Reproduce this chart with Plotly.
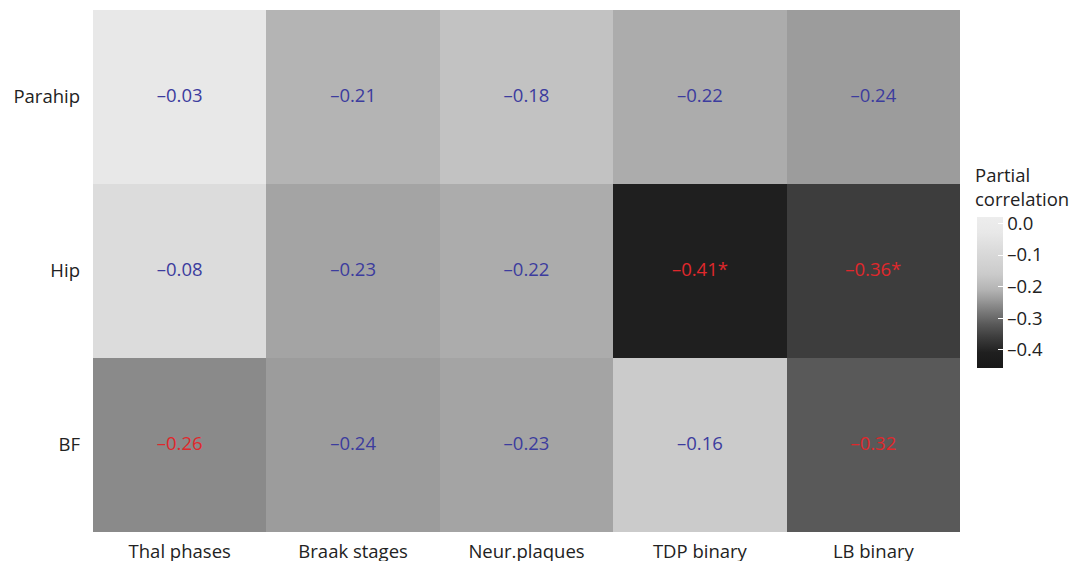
import plotly.graph_objects as go

regions = ["Parahip", "Hip", "BF"]
pathologies = ["Thal phases", "Braak stages", "Neur.plaques", "TDP binary", "LB binary"]

parahip = [-0.03, -0.21, -0.18, -0.22, -0.24]
hip = [-0.08, -0.23, -0.22, -0.41, -0.36]
bf = [-0.26, -0.24, -0.23, -0.16, -0.32]

# nominal significance (red) and corrected significance (star)
sig_parahip = [0, 0, 0, 0, 0]
sig_hip = [0, 0, 0, 1, 1]
sig_bf = [1, 0, 0, 0, 1]
star_parahip = [0, 0, 0, 0, 0]
star_hip = [0, 0, 0, 1, 1]
star_bf = [0, 0, 0, 0, 0]

cbar_ticks = [0.0, -0.1, -0.2, -0.3, -0.4]
cbar_title = "Partial<br>correlation"

z = [parahip, hip, bf]
sig = [sig_parahip, sig_hip, sig_bf]
star = [star_parahip, star_hip, star_bf]

zmin, zmax = -0.458, 0.02

def t(v):
    return (v - zmin) / (zmax - zmin)

def g(v):
    return f"rgb({v},{v},{v})"

stops = [(-0.458, 24), (-0.41, 31), (-0.36, 61), (-0.32, 89), (-0.26, 138),
         (-0.24, 156), (-0.21, 180), (-0.16, 203), (-0.08, 220), (-0.03, 232), (0.02, 237)]
colorscale = [[t(a), g(b)] for a, b in stops]
colorscale[0][0] = 0.0
colorscale[-1][0] = 1.0

FONT = "Open Sans"
FS = 18.5
TXT = "#222"

fig = go.Figure()
fig.add_trace(go.Heatmap(
    z=z, x=pathologies, y=regions,
    zmin=zmin, zmax=zmax, colorscale=colorscale,
    xgap=0, ygap=0, hoverinfo="skip",
    colorbar=dict(
        x=1.0196, xanchor="left", xpad=0,
        y=0.314, yanchor="bottom", ypad=0,
        thickness=26, thicknessmode="pixels",
        len=151, lenmode="pixels",
        outlinewidth=0,
        tickvals=cbar_ticks,
        ticktext=[("%.1f" % v).replace("-", "–") for v in cbar_ticks],
        ticks="inside", ticklen=5, tickcolor="white", tickwidth=1,
        tickfont=dict(family=FONT, size=FS, color=TXT),
    ),
))

xs, ys, txt, cols = [], [], [], []
for i, r in enumerate(regions):
    for j, c in enumerate(pathologies):
        v = z[i][j]
        s = f"{v:.2f}".replace("-", "–") + ("*" if star[i][j] else "")
        xs.append(c); ys.append(r); txt.append(s)
        cols.append("#e0282c" if sig[i][j] else "#3c3c9e")

fig.add_trace(go.Scatter(
    x=xs, y=ys, text=txt, mode="text",
    textfont=dict(family=FONT, size=FS, color=cols),
    hoverinfo="skip", showlegend=False,
))

fig.add_annotation(
    text=cbar_title, xref="paper", yref="paper",
    x=1.015, y=0.712, xanchor="left", yanchor="top", align="left",
    showarrow=False, font=dict(family=FONT, size=FS, color=TXT),
)

fig.update_layout(
    width=1072, height=561,
    margin=dict(l=93, r=112, t=10, b=29, autoexpand=False),
    paper_bgcolor="white", plot_bgcolor="white",
    font=dict(family=FONT, size=FS, color=TXT),
    showlegend=False,
)
fig.update_xaxes(showgrid=False, zeroline=False, showline=False, ticks="",
                 ticklabelstandoff=6, automargin=False,
                 tickfont=dict(family=FONT, size=FS, color=TXT))
fig.update_yaxes(showgrid=False, zeroline=False, showline=False, ticks="",
                 autorange="reversed", ticklabelstandoff=12, automargin=False,
                 tickfont=dict(family=FONT, size=FS, color=TXT))

fig.write_html("out.html", config={"displayModeBar": False},
               post_script="document.body.style.margin='0';document.body.style.overflow='hidden';")
